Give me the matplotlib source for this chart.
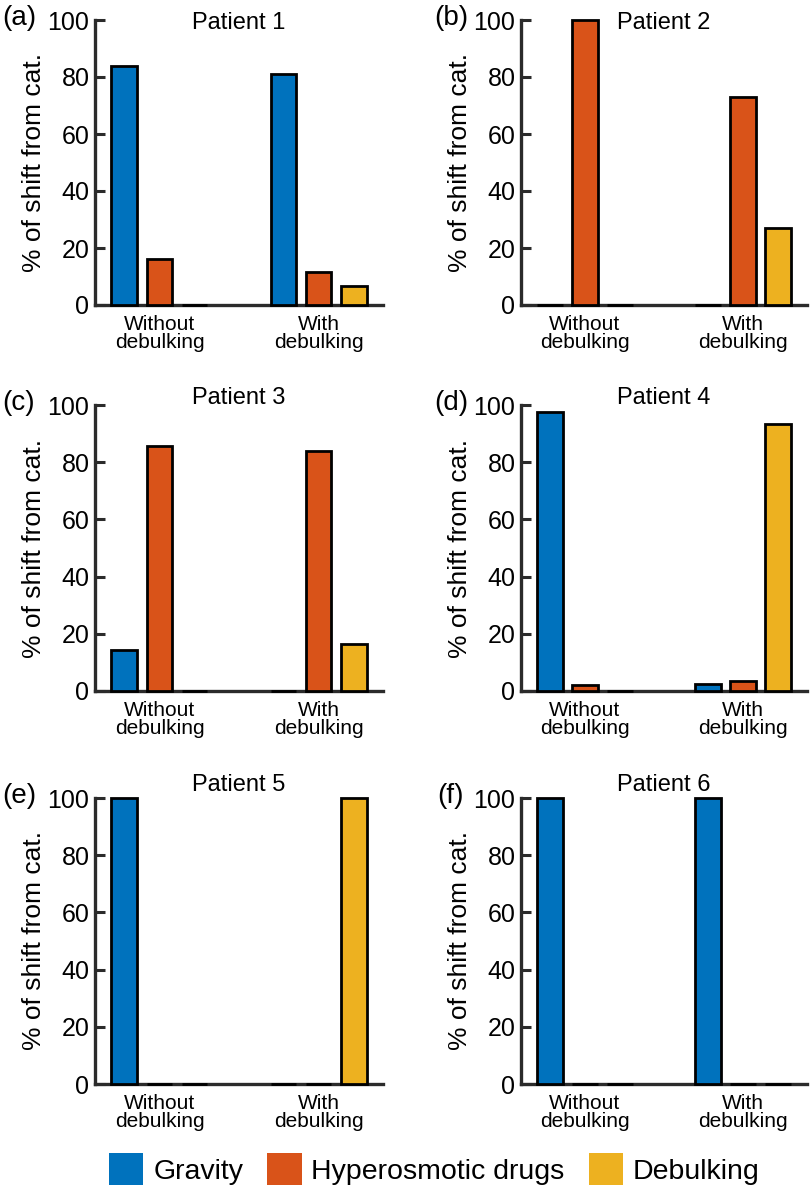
import matplotlib
matplotlib.use('Agg')
import matplotlib.pyplot as plt
from matplotlib.patches import Patch
import numpy as np

plt.rcParams['font.family'] = ['Liberation Sans', 'DejaVu Sans']

# data (% of shift from cat.)
patients = ['Patient 1', 'Patient 2', 'Patient 3', 'Patient 4', 'Patient 5', 'Patient 6']
panel_tags = ['(a)', '(b)', '(c)', '(d)', '(e)', '(f)']
groups = ['Without\ndebulking', 'With\ndebulking']
gravity = [[84, 81], [0, 0], [14.5, 0], [97.5, 2.5], [100, 0], [100, 100]]
hyperosmotic = [[16, 11.5], [100, 73], [85.5, 84], [2, 3.5], [0, 0], [0, 0]]
debulking = [[0, 6.7], [0, 27], [0, 16.3], [0, 93.3], [0, 100], [0, 0]]
series_names = ['Gravity', 'Hyperosmotic drugs', 'Debulking']
colors = ['#0072BD', '#D95319', '#EDB120']
yticks = [0, 20, 40, 60, 80, 100]

W, H = 812, 1189
fig = plt.figure(figsize=(W / 100, H / 100), dpi=100)

# axes boxes in pixels (left, right, top, bottom)
col_x = [(95, 383), (521, 807)]
row_y = [(20, 305), (405, 691), (798, 1084)]
title_off = [-9, 1, 7]   # baseline of title relative to axes top, px

spine_col = '#2b2b2b'
x = np.arange(1, len(groups) + 1)
offs = [-0.222, 0, 0.222]
bw = 0.16

for i, name in enumerate(patients):
    r, c = divmod(i, 2)
    x0, x1 = col_x[c]
    yt, yb = row_y[r]
    ax = fig.add_axes([x0 / W, 1 - yb / H, (x1 - x0) / W, (yb - yt) / H])
    vals = [gravity[i], hyperosmotic[i], debulking[i]]
    for k in range(3):
        ax.bar(x + offs[k], vals[k], width=bw, color=colors[k],
               edgecolor='black', linewidth=2, zorder=3, clip_on=False)
    ax.set_xlim(0.595, 2.405)
    ax.set_ylim(0, 100)
    ax.set_yticks(yticks)
    ax.set_xticks(x)
    ax.set_xticklabels(groups, fontsize=15, linespacing=0.95)
    ax.tick_params(axis='x', length=0, pad=7)
    ax.tick_params(axis='y', direction='in', length=7, width=2.2,
                   color=spine_col, labelsize=18, pad=4)
    for s in ['top', 'right']:
        ax.spines[s].set_visible(False)
    for s in ['left', 'bottom']:
        ax.spines[s].set_linewidth(2.4)
        ax.spines[s].set_color(spine_col)
    ax.set_ylabel('% of shift from cat.', fontsize=19, labelpad=1)
    ax.annotate(name, xy=(0.5, 1.0), xycoords='axes fraction',
                xytext=(0, title_off[r] * 0.72), textcoords='offset points',
                ha='center', va='baseline', fontsize=17)
    fig.text((19 if c == 0 else 451) / W, 1 - (yt - 2) / H, panel_tags[i],
             ha='center', va='center', fontsize=20)

handles = [Patch(facecolor=col, edgecolor='none') for col in colors]
fig.legend(handles, series_names, loc='center left',
           bbox_to_anchor=(109 / W, 1 - 1169 / H), frameon=False,
           fontsize=20.5, ncol=3, handlelength=1.2, handleheight=1.35,
           handletextpad=0.35, columnspacing=0.85, borderpad=0,
           borderaxespad=0)

fig.savefig('out.png', dpi=100)
